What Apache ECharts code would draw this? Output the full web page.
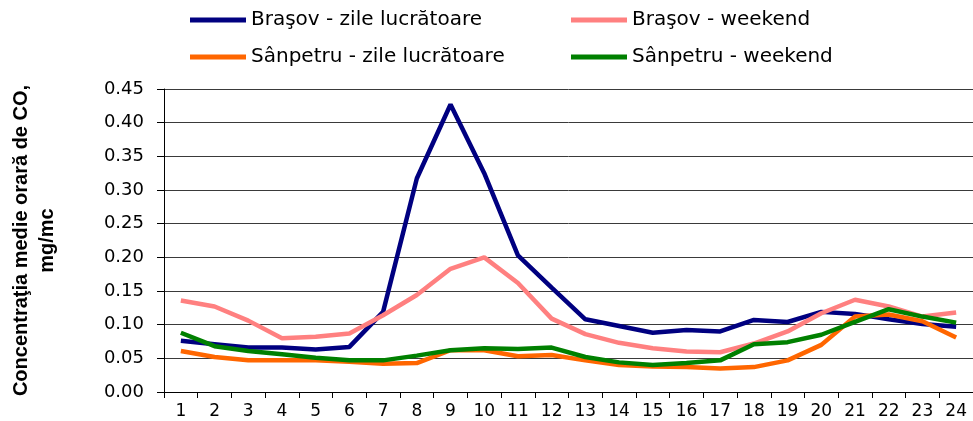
<!DOCTYPE html>
<html>
<head>
<meta charset="utf-8">
<script src="https://cdn.jsdelivr.net/npm/echarts@6/dist/echarts.min.js"></script>
<style>
html, body { margin: 0; padding: 0; background: #fff; }
#chart { width: 973px; height: 421px; }
</style>
</head>
<body>
<div id="chart"></div>
<script>
var hours = ['1','2','3','4','5','6','7','8','9','10','11','12','13','14','15','16','17','18','19','20','21','22','23','24'];
var yTicks = [0, 0.45, 0.05];

var brasovZile = [0.076, 0.071, 0.066, 0.066, 0.063, 0.067, 0.119, 0.317, 0.427, 0.325, 0.203, 0.155,
                  0.108, 0.098, 0.088, 0.092, 0.090, 0.107, 0.104, 0.119, 0.116, 0.108, 0.101, 0.097];
var brasovWeekend = [0.136, 0.127, 0.106, 0.080, 0.082, 0.087, 0.114, 0.144, 0.183, 0.200, 0.162, 0.109,
                     0.086, 0.073, 0.065, 0.060, 0.059, 0.072, 0.090, 0.117, 0.137, 0.127, 0.112, 0.118];
var sanpetruZile = [0.061, 0.052, 0.047, 0.047, 0.047, 0.045, 0.042, 0.043, 0.062, 0.062, 0.053, 0.055,
                    0.047, 0.040, 0.038, 0.037, 0.035, 0.037, 0.047, 0.070, 0.112, 0.115, 0.105, 0.081];
var sanpetruWeekend = [0.088, 0.068, 0.061, 0.056, 0.051, 0.047, 0.047, 0.054, 0.062, 0.065, 0.064, 0.066,
                       0.052, 0.044, 0.040, 0.043, 0.047, 0.071, 0.074, 0.085, 0.104, 0.123, 0.112, 0.103];

var chart = echarts.init(document.getElementById('chart'));
// the source picture is stretched sideways, DejaVu's wider glyphs get closer than Arial
var wide = 'DejaVu Sans, sans-serif';
var arial = 'Liberation Sans, Arial, sans-serif';

function legendItem(name, left, top) {
    return {
        data: [name],
        left: left,
        top: top,
        padding: 0,
        icon: 'rect',
        itemWidth: 56,
        itemHeight: 5,
        itemGap: 0,
        textStyle: { fontFamily: wide, fontSize: 20, lineHeight: 24, color: '#000' }
    };
}

function line(name, color, data) {
    return {
        name: name,
        type: 'line',
        data: data,
        symbol: 'none',
        color: color,
        lineStyle: { width: 4.5, color: color },
        animation: false
    };
}

var option = {
    legend: [
        legendItem('Braşov - zile lucrătoare', 190, 8),
        legendItem('Braşov - weekend', 571, 8),
        legendItem('Sânpetru - zile lucrătoare', 190, 45),
        legendItem('Sânpetru - weekend', 571, 45)
    ],
    grid: {
        left: 160,
        top: 89,
        bottom: 29,
        right: -10
    },
    xAxis: {
        type: 'category',
        data: hours,
        boundaryGap: true,
        axisLine: { lineStyle: { color: '#000', width: 1 } },
        axisTick: { show: true, length: 6, lineStyle: { color: '#000' } },
        axisLabel: { fontFamily: wide, fontSize: 17, color: '#000', margin: 11 },
        splitLine: { show: false }
    },
    yAxis: {
        type: 'value',
        min: yTicks[0],
        max: yTicks[1],
        interval: yTicks[2],
        name: 'Concentraţia medie orară de CO,\nmg/mc',
        nameLocation: 'middle',
        nameGap: 104,
        nameTextStyle: { fontFamily: arial, fontSize: 20, fontWeight: 'bold', color: '#000', lineHeight: 26, align: 'center' },
        axisLine: { show: true, lineStyle: { color: '#000', width: 1 } },
        axisTick: { show: true, length: 7, lineStyle: { color: '#000' } },
        axisLabel: {
            fontFamily: wide, fontSize: 18, color: '#000', margin: 20,
            formatter: function (v) { return v.toFixed(2); }
        },
        splitLine: { show: true, lineStyle: { color: '#3a3a3a', width: 1 } }
    },
    series: [
        line('Braşov - zile lucrătoare', '#000080', brasovZile),
        line('Braşov - weekend', '#FF8080', brasovWeekend),
        line('Sânpetru - zile lucrătoare', '#FF6600', sanpetruZile),
        line('Sânpetru - weekend', '#008000', sanpetruWeekend)
    ]
};

chart.setOption(option);

window.onresize = function () {
    chart.resize();
};
</script>
</body>
</html>
